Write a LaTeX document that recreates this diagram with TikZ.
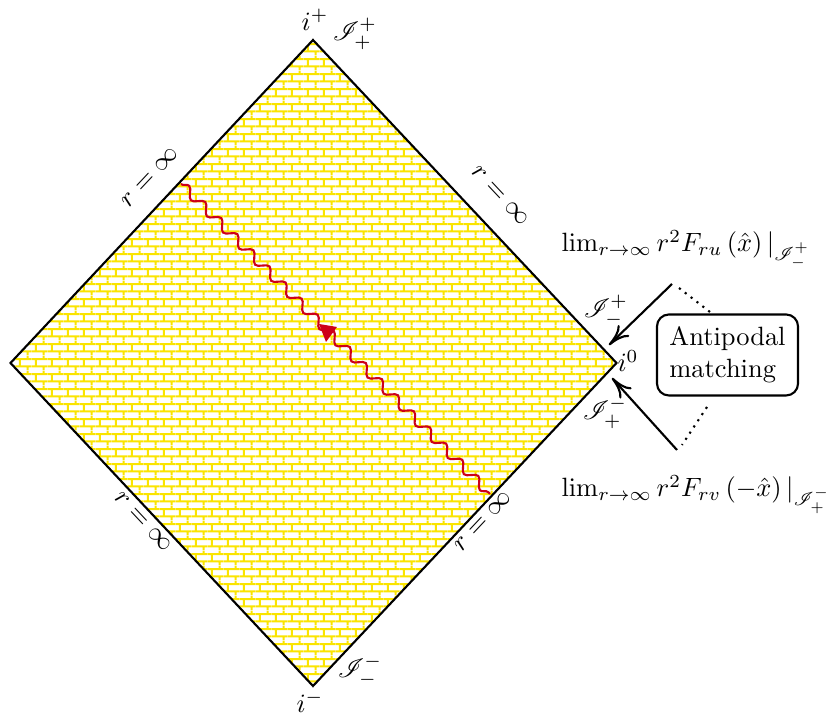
\documentclass[tikz,border=0pt]{standalone}
\usepackage{mathrsfs}
\usetikzlibrary{patterns,decorations.pathmorphing,arrows.meta}
\definecolor{myyellow}{RGB}{250,228,0}
\definecolor{myred}{RGB}{205,0,25}
\pgfdeclarepatternformonly{mybricks}{\pgfpointorigin}{\pgfqpoint{5.97pt}{5.74pt}}{\pgfqpoint{5.97pt}{5.74pt}}{%
  \pgfsetlinewidth{0.8pt}%
  \pgfpathmoveto{\pgfqpoint{0pt}{1.435pt}}\pgfpathlineto{\pgfqpoint{5.97pt}{1.435pt}}%
  \pgfpathmoveto{\pgfqpoint{0pt}{4.305pt}}\pgfpathlineto{\pgfqpoint{5.97pt}{4.305pt}}%
  \pgfpathmoveto{\pgfqpoint{1.49pt}{1.435pt}}\pgfpathlineto{\pgfqpoint{1.49pt}{4.305pt}}%
  \pgfpathmoveto{\pgfqpoint{4.475pt}{4.305pt}}\pgfpathlineto{\pgfqpoint{4.475pt}{5.74pt}}%
  \pgfpathmoveto{\pgfqpoint{4.475pt}{0pt}}\pgfpathlineto{\pgfqpoint{4.475pt}{1.435pt}}%
  \pgfusepath{stroke}%
}
\begin{document}
\begin{tikzpicture}[x=0.378pt,y=-0.378pt,
  edge/.style={line width=0.8pt},
  wave/.style={draw=myred,line width=0.8pt,decorate,
    decoration={snake,segment length=8.6pt,amplitude=1.7pt}},
  lbl/.style={inner sep=0pt},
  pointer/.style={line width=0.8pt,-{Computer Modern Rightarrow[length=8pt,width=6pt]}},
  dots/.style={line width=0.8pt,dotted},
  boxstyle/.style={draw,line width=0.8pt,rounded corners=4.5pt,align=left,inner sep=4.7pt}]
\useasboundingbox (0,0) rectangle (828,715);
% diamond
\coordinate (T) at (313,40);
\coordinate (R) at (616.5,363);
\coordinate (B) at (313,686);
\coordinate (L) at (10.5,363);
\draw[edge,pattern=mybricks,pattern color=myyellow] (T) -- (R) -- (B) -- (L) -- cycle;
% wavy red line
\coordinate (w1) at (181,184);
\coordinate (w2) at (490,494);
\draw[wave] (w1) -- (w2);
\fill[myred] (319,324) -- (337,327) -- (326,342) -- cycle;
% corner labels
\node[lbl] (ip) at (315,20) {$i^+$};
\node[lbl] (scrpp) at (355,34) {$\mathscr{I}^+_+$};
\node[lbl,anchor=south] (im) at (310,713) {$i^-$};
\node[lbl] (scrmm) at (360,671) {$\mathscr{I}^-_-$};
\node[lbl] (i0) at (628,361) {$i^0$};
\node[lbl] (scrpm) at (606,311) {$\mathscr{I}^+_-$};
\node[lbl] (scrmp) at (605,413) {$\mathscr{I}^-_+$};
% edge labels
\node[lbl,rotate=46.8] (r1) at (150,177) {$r=\infty$};
\node[lbl,rotate=-46.8] (r2) at (500,196) {$r=\infty$};
\node[lbl,rotate=-46.8] (r3) at (143,522) {$r=\infty$};
\node[lbl,rotate=46.8] (r4) at (483,521) {$r=\infty$};
% antipodal box
\node[boxstyle] (box) at (727.5,355) {Antipodal\\matching};
% arrows
\coordinate (a1s) at (672,284);
\coordinate (a1e) at (609,345);
\coordinate (a2s) at (677,450);
\coordinate (a2e) at (612,378);
\draw[pointer] (a1s) -- (a1e);
\draw[pointer] (a2s) -- (a2e);
\coordinate (d1s) at (679,288);
\coordinate (d1e) at (710,312);
\coordinate (d2s) at (707,407);
\coordinate (d2e) at (682,445);
\draw[dots] (d1s) -- (d1e);
\draw[dots] (d2s) -- (d2e);
% limit labels
\node[lbl,anchor=base west] (limu) at (561,252) {$\lim_{r\to\infty} r^2 F_{ru}\left(\hat{x}\right)|_{\mathscr{I}^+_-}$};
\node[lbl,anchor=base west] (limv) at (561,497) {$\lim_{r\to\infty} r^2 F_{rv}\left(-\hat{x}\right)|_{\mathscr{I}^-_+}$};
\end{tikzpicture}
\end{document}
